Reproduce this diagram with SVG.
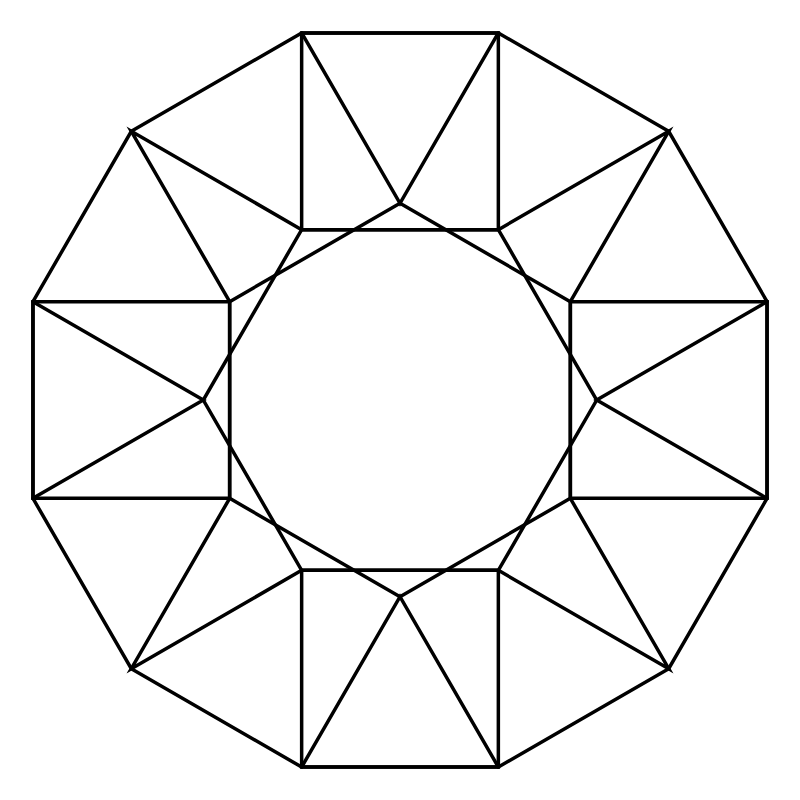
<svg xmlns="http://www.w3.org/2000/svg" width="800" height="800" viewBox="0 0 800 800">
<style>
.e{fill:none;stroke:#000;stroke-width:3.5;stroke-linejoin:miter;stroke-linecap:round}
</style>
<rect width="800" height="800" fill="#fff"/>
<g id="outer">
<polygon class="e" points="767.05,301.65 668.70,131.30 498.35,32.95 301.65,32.95 131.30,131.30 32.95,301.65 32.95,498.35 131.30,668.70 301.65,767.05 498.35,767.05 668.70,668.70 767.05,498.35"/>
</g>
<g id="squares">
<polygon class="e" points="301.65,32.95 498.35,32.95 498.35,229.65 301.65,229.65"/>
<polygon class="e" points="767.05,301.65 767.05,498.35 570.35,498.35 570.35,301.65"/>
<polygon class="e" points="301.65,767.05 498.35,767.05 498.35,570.35 301.65,570.35"/>
<polygon class="e" points="32.95,301.65 32.95,498.35 229.65,498.35 229.65,301.65"/>
</g>
<g id="triangles">
<polyline class="e" points="301.65,32.95 400,203.30 498.35,32.95"/>
<polyline class="e" points="767.05,301.65 596.70,400 767.05,498.35"/>
<polyline class="e" points="301.65,767.05 400,596.70 498.35,767.05"/>
<polyline class="e" points="32.95,301.65 203.30,400 32.95,498.35"/>
</g>
<g id="diagonals">
<polyline class="e" points="498.35,229.65 668.70,131.30 570.35,301.65"/>
<polyline class="e" points="301.65,229.65 131.30,131.30 229.65,301.65"/>
<polyline class="e" points="229.65,498.35 131.30,668.70 301.65,570.35"/>
<polyline class="e" points="570.35,498.35 668.70,668.70 498.35,570.35"/>
</g>
<g id="hexagons">
<polygon class="e" points="596.70,400 498.35,229.65 301.65,229.65 203.30,400 301.65,570.35 498.35,570.35"/>
<polygon class="e" points="570.35,301.65 400,203.30 229.65,301.65 229.65,498.35 400,596.70 570.35,498.35"/>
</g>
</svg>
